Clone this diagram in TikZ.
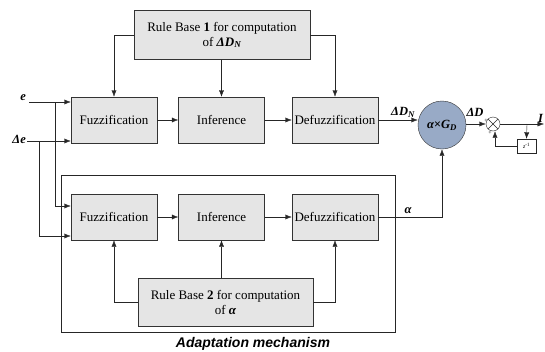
\documentclass[tikz,border=0pt]{standalone}
\usepackage{fontspec}
\setmainfont{Liberation Serif}
\setsansfont{Liberation Sans}
\usetikzlibrary{arrows.meta}
\definecolor{gainblue}{RGB}{152,170,198}
\tikzset{
  block/.style={draw=black!80, fill=black!10, minimum width=86pt, minimum height=46pt,
    inner sep=1pt, font=\fontsize{13}{15}\selectfont},
  rulebox/.style={block, minimum width=176pt, minimum height=49pt, align=center},
  sig/.style={-{Latex[length=6.5pt,width=5pt]}, black!85},
  wire/.style={black!85},
  lbl/.style={font=\fontsize{12.5}{14}\selectfont\bfseries\itshape, inner sep=0pt},
}
\begin{document}
\begin{tikzpicture}[x=1pt,y=-1pt]
    \useasboundingbox (0,0) rectangle (545,351);
    % Rule bases
    \node[rulebox] (rb1) at (222,35) {Rule Base \textbf{1} for computation\\of \textbf{\textit{ΔD\textsubscript{N}}}};
    \node[rulebox, minimum width=175pt, minimum height=48pt] (rb2) at (225.5,302) {Rule Base \textbf{2} for computation\\of \textbf{\textit{α}}};
    % Upper chain
    \node[block] (fz1) at (114,120) {Fuzzification};
    \node[block] (inf1) at (221.5,120) {Inference};
    \node[block] (df1) at (335,120) {Defuzzification};
    % Lower chain
    \node[block] (fz2) at (114,217) {Fuzzification};
    \node[block] (inf2) at (221.5,217) {Inference};
    \node[block] (df2) at (335,217) {Defuzzification};
    % Adaptation frame
    \draw[wire] (61,175) rectangle (395,332);
    \node[font=\sffamily\bfseries\itshape\fontsize{14}{16}\selectfont] (adapt) at (253,344) {Adaptation mechanism};
    % Chains
    \draw[sig] (fz1) -- (inf1);
    \draw[sig] (inf1) -- (df1);
    \draw[sig] (fz2) -- (inf2);
    \draw[sig] (inf2) -- (df2);
    % Rule base links
    \draw[sig] (rb1.west) -| (fz1.north);
    \draw[sig] (inf1.north |- rb1.south) -- (inf1.north);
    \draw[sig] (rb1.east) -| (df1.north);
    \draw[sig] (rb2.west) -| (fz2.south);
    \draw[sig] (inf2.south |- rb2.north) -- (inf2.south);
    \draw[sig] (rb2.east) -| (df2.south);
    % Inputs
    \coordinate (e) at (29,102);
    \coordinate (de) at (27,141);
    \coordinate (eb) at (55,102);
    \coordinate (deb) at (39,141);
    \node[lbl, anchor=east] (elbl) at (26,98) {e};
    \node[lbl, anchor=east] (delbl) at (26,139) {Δe};
    \draw[sig] (e) -- (e -| fz1.west);
    \draw[sig] (de) -- (de -| fz1.west);
    \draw[sig] (eb) |- ([yshift=11pt]fz2.west);
    \draw[sig] (deb) |- ([yshift=-19pt]fz2.west);
    % Gain
    \node[circle, draw=black!80, fill=gainblue, minimum size=48pt, inner sep=0pt,
      font=\fontsize{12.5}{14}\selectfont\bfseries\itshape] (gain) at (442,125) {α×G\textsubscript{D}};
    \draw[sig] (df1.east) -- (df1.east -| gain.west);
    \node[lbl] (dnlbl) at (403,112) {ΔD\textsubscript{N}};
    \draw[sig] (df2.east) -| (gain.south);
    \node[lbl] (albl) at (408,211) {α};
    % Summing junction and delay
    \node[circle, draw=black!85, minimum size=14pt, inner sep=0pt] (sum) at (493,124) {};
    \draw[wire] (sum.north west) -- (sum.south east);
    \draw[wire] (sum.north east) -- (sum.south west);
    \draw[sig] (gain.east |- sum) -- (sum.west);
    \node[lbl] (dlbl) at (475,112) {ΔD};
    \node[font=\fontsize{6}{6}\selectfont, inner sep=0pt] (p1) at (486,121) {+};
    \node[font=\fontsize{6}{6}\selectfont, inner sep=0pt] (p2) at (490,133) {+};
    \coordinate (out) at (544,124);
    \coordinate (br) at (527,124);
    \draw[sig] (sum.east) -- (out);
    \node[lbl, anchor=west] (olbl) at (538,118) {I};
    \node[draw=black!85, fill=white, minimum width=19pt, minimum height=14pt, inner sep=0pt,
      font=\fontsize{6}{6}\selectfont] (zd) at (526.5,146) {\textit{z}\textsuperscript{-1}};
    \draw[sig] (br) -- (zd.north);
    \draw[sig] (zd.west) -| ([xshift=2pt]sum.south);
\end{tikzpicture}
\end{document}
